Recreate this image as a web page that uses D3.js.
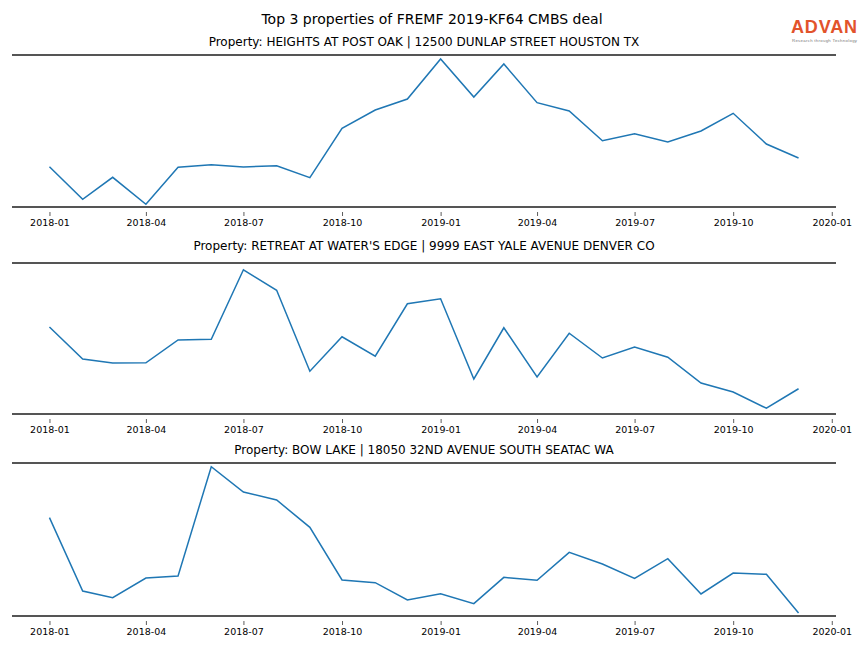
<!DOCTYPE html>
<html>
<head>
<meta charset="utf-8">
<script src="https://cdn.jsdelivr.net/npm/d3@7"></script>
<style>
  html, body { margin: 0; padding: 0; background: #fff; }
  svg { display: block; font-family: "DejaVu Sans", sans-serif; }
</style>
</head>
<body>
<svg id="chart" width="864" height="648"></svg>
<script>
// ---- data ----
const months = ["2018-01","2018-02","2018-03","2018-04","2018-05","2018-06","2018-07","2018-08","2018-09","2018-10","2018-11","2018-12",
                "2019-01","2019-02","2019-03","2019-04","2019-05","2019-06","2019-07","2019-08","2019-09","2019-10","2019-11","2019-12"];
const tickLabels = ["2018-01","2018-04","2018-07","2018-10","2019-01","2019-04","2019-07","2019-10","2020-01"];
const titles = [
  "Property: HEIGHTS AT POST OAK | 12500 DUNLAP STREET HOUSTON TX",
  "Property: RETREAT AT WATER'S EDGE | 9999 EAST YALE AVENUE DENVER CO",
  "Property: BOW LAKE | 18050 32ND AVENUE SOUTH SEATAC WA"
];
const heightsAtPostOak = [1403,1077,1297,1027,1397,1423,1400,1413,1293,1787,1970,2080,
                          2480,2100,2430,2043,1960,1663,1733,1650,1760,1937,1630,1490];
const retreatAtWatersEdge = [548,420,404,405,496,499,777,695,371,509,431,641,
                             661,340,545,348,523,424,468,427,324,288,223,301];
const bowLake = [990,550,510,628,640,1296,1144,1096,932,616,600,496,
                 534,474,632,614,782,712,626,744,532,658,650,418];
const seriesList = [heightsAtPostOak, retreatAtWatersEdge, bowLake];
const yDomains = [[1000, 2520], [200, 804], [400, 1318]];

// ---- layout ----
const svg = d3.select("#chart");
const parse = d3.timeParse("%Y-%m");
const dates = months.map(parse);
const left = 12, right = 836;
const panels = [{top: 55, bottom: 207, titleY: 46}, {top: 263, bottom: 414, titleY: 250}, {top: 463, bottom: 616, titleY: 454}];

// x domain with 5% margins like matplotlib
const t0 = dates[0].getTime(), t1 = dates[dates.length - 1].getTime();
const pad = (t1 - t0) * 0.05;
const x = d3.scaleTime().domain([new Date(t0 - pad), new Date(t1 + pad)]).range([left, right]);
const tickDates = tickLabels.map(parse);

svg.append("text").attr("x", 432).attr("y", 24).attr("text-anchor", "middle")
  .attr("font-size", 14).attr("fill", "#000").text("Top 3 properties of FREMF 2019-KF64 CMBS deal");

panels.forEach((p, i) => {
  const y = d3.scaleLinear().domain(yDomains[i]).range([p.bottom, p.top]);
  const g = svg.append("g");
  g.append("text").attr("x", (left + right) / 2).attr("y", p.titleY).attr("text-anchor", "middle")
    .attr("font-size", 12).attr("fill", "#000").text(titles[i]);

  // axis ticks
  const axis = d3.axisBottom(x).tickValues(tickDates).tickFormat(d3.timeFormat("%Y-%m"))
    .tickSize(4).tickPadding(3);
  const ag = g.append("g").attr("transform", `translate(0,${p.bottom + 5})`).call(axis);
  ag.select(".domain").remove();
  ag.selectAll(".tick line").attr("stroke", "#333").attr("stroke-width", 0.8);
  ag.selectAll(".tick text").attr("font-size", 9.5).attr("fill", "#000")
    .attr("font-family", "DejaVu Sans, sans-serif");

  // spines
  g.append("line").attr("x1", left).attr("x2", right).attr("y1", p.top).attr("y2", p.top)
    .attr("stroke", "#555").attr("stroke-width", 2);
  g.append("line").attr("x1", left).attr("x2", right).attr("y1", p.bottom).attr("y2", p.bottom)
    .attr("stroke", "#555").attr("stroke-width", 2);

  const line = d3.line().x((d, j) => x(dates[j])).y(d => y(d));
  g.append("path").datum(seriesList[i]).attr("d", line)
    .attr("fill", "none").attr("stroke", "#1f77b4").attr("stroke-width", 1.5)
    .attr("stroke-linejoin", "miter");
});

// logo
svg.append("text").attr("x", 791).attr("y", 33).attr("font-size", 18).attr("font-weight", "bold")
  .attr("fill", "#e2532b").attr("font-family", "Liberation Sans, Arial, sans-serif")
  .attr("textLength", 66).text("ADVAN");
svg.append("text").attr("x", 792).attr("y", 41.5).attr("font-size", 4.3).attr("fill", "#777")
  .attr("font-family", "Liberation Sans, Arial, sans-serif").attr("textLength", 65)
  .text("Research through Technology");
</script>
</body>
</html>
